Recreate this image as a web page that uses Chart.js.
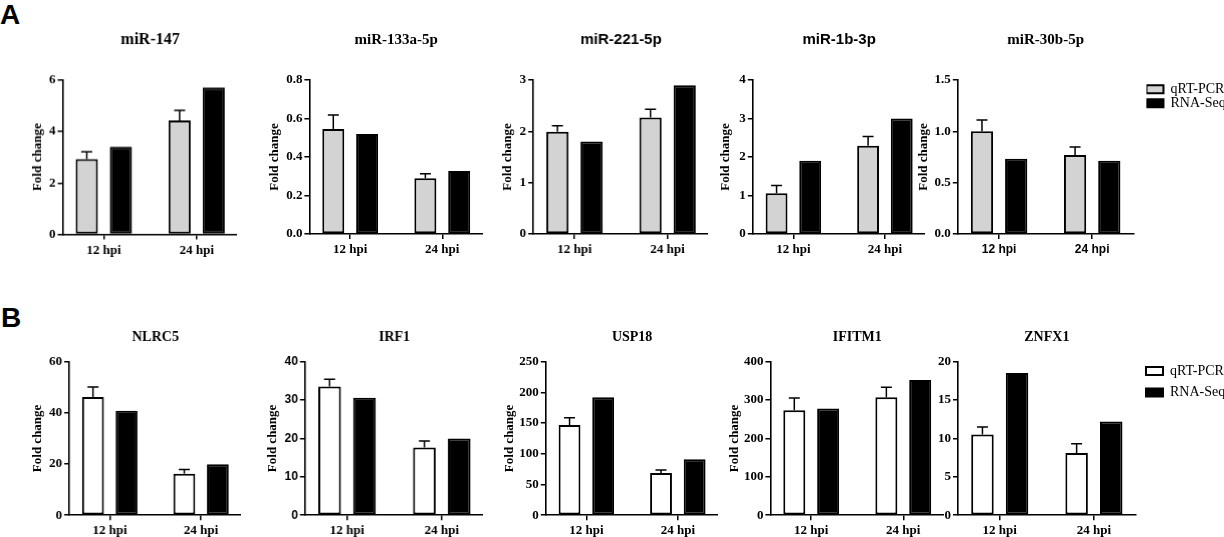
<!DOCTYPE html>
<html>
<head>
<meta charset="utf-8">
<script src="https://cdn.jsdelivr.net/npm/chart.js@4.4.0/dist/chart.umd.min.js"></script>
<style>
html,body{margin:0;padding:0;background:#fff;width:1224px;height:537px;overflow:hidden;position:relative;}
.wrap{position:absolute;}
.panel-label{position:absolute;font-family:"Liberation Sans",Arial,sans-serif;font-weight:bold;font-size:28px;line-height:28px;color:#000;}
</style>
</head>
<body>
<div class="panel-label" style="left:0px;top:1px">A</div>
<div class="panel-label" style="left:1px;top:304px">B</div>
<script>
// ---------------- DATA ----------------
const timePoints = ['12 hpi', '24 hpi'];
const seriesLabels = ['qRT-PCR', 'RNA-Seq'];

const mirnaNames = ['miR-147', 'miR-133a-5p', 'miR-221-5p', 'miR-1b-3p', 'miR-30b-5p'];
const mirnaQpcr = [[2.93, 4.43], [0.545, 0.29], [1.99, 2.27], [1.06, 2.29], [1.0, 0.77]];
const mirnaQpcrSd = [[0.28, 0.39], [0.073, 0.023], [0.12, 0.16], [0.2, 0.24], [0.11, 0.077]];
const mirnaRnaSeq = [[3.4, 5.7], [0.52, 0.327], [1.8, 2.9], [1.9, 3.0], [0.733, 0.714]];
const mirnaYMax = [6, 0.8, 3, 4, 1.5];
const mirnaYStep = [2, 0.2, 1, 1, 0.5];
const mirnaYDecimals = [0, 1, 0, 0, 1];

const geneNames = ['NLRC5', 'IRF1', 'USP18', 'IFITM1', 'ZNFX1'];
const geneQpcr = [[46.2, 16.2], [33.5, 17.6], [147, 68.5], [273, 307], [10.5, 8.1]];
const geneQpcrSd = [[3.9, 1.7], [1.9, 1.7], [11.5, 5], [32, 26], [1.0, 1.2]];
const geneRnaSeq = [[40.8, 19.9], [30.6, 20], [192, 91], [278, 352], [18.5, 12.2]];
const geneYMax = [60, 40, 250, 400, 20];
const geneYStep = [20, 10, 50, 100, 5];
const geneYDecimals = [0, 0, 0, 0, 0];

// ---------------- LAYOUT / STYLE ----------------
const SERIF = '"Liberation Serif", "Times New Roman", serif';
const SANS = '"Liberation Sans", Arial, sans-serif';
const plotLeft = [[62.7, 309.3, 533.3, 752.3, 957.3], [69.3, 305, 545.7, 770.3, 958]];
const plotRight = [[237, 483, 708, 925, 1133], [240.7, 483, 718.3, 944, 1135.7]];
const plotTop = [80, 361.7];
const plotBottom = [234, 515.3];
const titleCenterY = [40, 337.5];
const titleSize = [[16, 15, 15, 15, 15], [14, 14, 14, 14, 14]];
const titleFamily = [[SERIF, SERIF, SANS, SANS, SERIF], [SERIF, SERIF, SERIF, SERIF, SERIF]];
const yTickFamily = [[SERIF, SERIF, SERIF, SERIF, SERIF], [SERIF, SANS, SERIF, SERIF, SERIF]];
const yTickSize = [[13, 13, 13, 13, 13], [13, 12, 13, 13, 13]];
const xTickFamily = [[SERIF, SERIF, SERIF, SERIF, SANS], [SERIF, SERIF, SERIF, SERIF, SERIF]];
const xTickSize = [[13, 13, 13, 13, 12], [13, 13, 13, 13, 13]];
const yTitleOffset = [[24.7, 34.6, 25.3, 27, 34], [31.3, 32, 36, 35.6, null]];
const qpcrFill = ['#d3d3d3', '#ffffff'];
const legendPad = [0, 7.7];
const legendDx = [13, 2.6];
const legendDy = [2.3, -5.4];
const groupInset = 0.235;
const xAxisHeight = 30;

Chart.defaults.color = '#000';

const errorBarPlugin = {
  id: 'errorBars',
  afterDatasetsDraw(chart, args, opts) {
    const sd = opts.sd;
    if (!sd) return;
    const meta = chart.getDatasetMeta(0);
    const ys = chart.scales.y;
    const vals = chart.data.datasets[0].data;
    const ctx = chart.ctx;
    ctx.save();
    ctx.strokeStyle = '#000';
    ctx.lineWidth = 1.5;
    meta.data.forEach((bar, i) => {
      const yBar = ys.getPixelForValue(vals[i]);
      const yTop = ys.getPixelForValue(vals[i] + sd[i]);
      ctx.beginPath();
      ctx.moveTo(bar.x, yBar);
      ctx.lineTo(bar.x, yTop);
      ctx.moveTo(bar.x - 5.5, yTop);
      ctx.lineTo(bar.x + 5.5, yTop);
      ctx.stroke();
    });
    ctx.restore();
  }
};

const legendShiftPlugin = {
  id: 'legendShift',
  afterLayout(chart, args, opts) {
    const lg = chart.legend;
    if (!lg || !lg.options.display || opts.dx === undefined) return;
    const w = lg.width, h = lg.height;
    lg.left = chart.chartArea.right + opts.dx;
    lg.right = lg.left + w;
    lg.top = chart.chartArea.top + opts.dy;
    lg.bottom = lg.top + h;
  }
};

function buildChart(row, col) {
  const isA = row === 0;
  const name = (isA ? mirnaNames : geneNames)[col];
  const qpcr = (isA ? mirnaQpcr : geneQpcr)[col];
  const sd = (isA ? mirnaQpcrSd : geneQpcrSd)[col];
  const rna = (isA ? mirnaRnaSeq : geneRnaSeq)[col];
  const yMax = (isA ? mirnaYMax : geneYMax)[col];
  const yStep = (isA ? mirnaYStep : geneYStep)[col];
  const dec = (isA ? mirnaYDecimals : geneYDecimals)[col];

  const pl = plotLeft[row][col], pr = plotRight[row][col];
  const pt = plotTop[row], pb = plotBottom[row];
  const tFs = titleSize[row][col];
  const hasLegend = col === 4;
  const yOff = yTitleOffset[row][col];
  const hasYTitle = yOff !== null;
  const yW = hasYTitle ? yOff + 7.8 : 30;

  let left = pl - yW;
  let top = titleCenterY[row] - 0.6 * tFs;
  const titlePadBottom = pt - top - 1.2 * tFs;
  let width = yW + (pr - pl) + (hasLegend ? legendDx[row] + 100 : 0);
  let height = (pb - top) + xAxisHeight;

  const wrap = document.createElement('div');
  wrap.className = 'wrap';
  const place = () => {
    wrap.style.left = left + 'px';
    wrap.style.top = top + 'px';
    wrap.style.width = width + 'px';
    wrap.style.height = height + 'px';
  };
  place();
  const canvas = document.createElement('canvas');
  wrap.appendChild(canvas);
  document.body.appendChild(wrap);

  const chart = new Chart(canvas, {
    type: 'bar',
    data: {
      labels: timePoints,
      datasets: [
        {
          label: seriesLabels[0], data: qpcr,
          backgroundColor: qpcrFill[row], borderColor: '#000', borderWidth: 2,
          borderSkipped: false, categoryPercentage: 0.735, barPercentage: 0.65
        },
        {
          label: seriesLabels[1], data: rna,
          backgroundColor: '#000', borderColor: '#000', borderWidth: 2,
          borderSkipped: false, categoryPercentage: 0.735, barPercentage: 0.65
        }
      ]
    },
    options: {
      responsive: true,
      maintainAspectRatio: false,
      animation: false,
      events: [],
      layout: { padding: { left: 0, top: 0, bottom: 0, right: hasLegend ? legendDx[row] : 0 } },
      plugins: {
        tooltip: { enabled: false },
        title: {
          display: true, text: name, position: 'top', align: 'center', fullSize: false,
          font: { family: titleFamily[row][col], size: tFs, weight: 'bold' }, color: '#000',
          padding: { top: 0, bottom: titlePadBottom }
        },
        legend: {
          display: hasLegend, position: 'right', align: 'start', fullSize: false,
          maxWidth: 160,
          labels: {
            boxWidth: 17, boxHeight: 8, padding: legendPad[row],
            font: { family: SERIF, size: 14 }, color: '#000'
          }
        },
        errorBars: { sd: sd },
        legendShift: hasLegend ? { dx: legendDx[row], dy: legendDy[row] } : {}
      },
      scales: {
        x: {
          type: 'category', offset: true,
          grid: { offset: false, drawOnChartArea: false, drawTicks: true, tickLength: 5, color: '#000', lineWidth: 1.5 },
          border: { display: true, color: '#000', width: 1.6 },
          ticks: {
            font: { family: xTickFamily[row][col], size: xTickSize[row][col], weight: 'bold' },
            color: '#000', padding: 3, maxRotation: 0, autoSkip: false
          },
          afterFit: s => { s.height = xAxisHeight; },
          afterBuildTicks: s => {
            const span = 1 - 2 * groupInset;
            s._valueRange = 1 / span;
            s._startValue = -groupInset / span;
          }
        },
        y: {
          min: 0, max: yMax,
          ticks: {
            stepSize: yStep, color: '#000', padding: 2,
            font: { family: yTickFamily[row][col], size: yTickSize[row][col], weight: 'bold' },
            callback: v => Number(v).toFixed(dec)
          },
          grid: { drawOnChartArea: false, drawTicks: true, tickLength: 5, color: '#000', lineWidth: 1.5 },
          border: { display: true, color: '#000', width: 1.6 },
          title: {
            display: hasYTitle, text: 'Fold change', color: '#000',
            font: { family: SERIF, size: 13, weight: 'bold' }, padding: { top: 0, bottom: 0 }
          },
          afterFit: s => { s.width = yW; }
        }
      }
    },
    plugins: [errorBarPlugin, legendShiftPlugin]
  });

  // correct placement so the plot area lands on the reference axes
  for (let k = 0; k < 2; k++) {
    const a = chart.chartArea;
    left += pl - (left + a.left);
    top += pt - (top + a.top);
    width += pr - (left + a.right);
    height += pb - (top + a.bottom);
    place();
    chart.resize();
  }
  return chart;
}

for (let r = 0; r < 2; r++) {
  for (let c = 0; c < 5; c++) buildChart(r, c);
}
</script>
</body>
</html>
